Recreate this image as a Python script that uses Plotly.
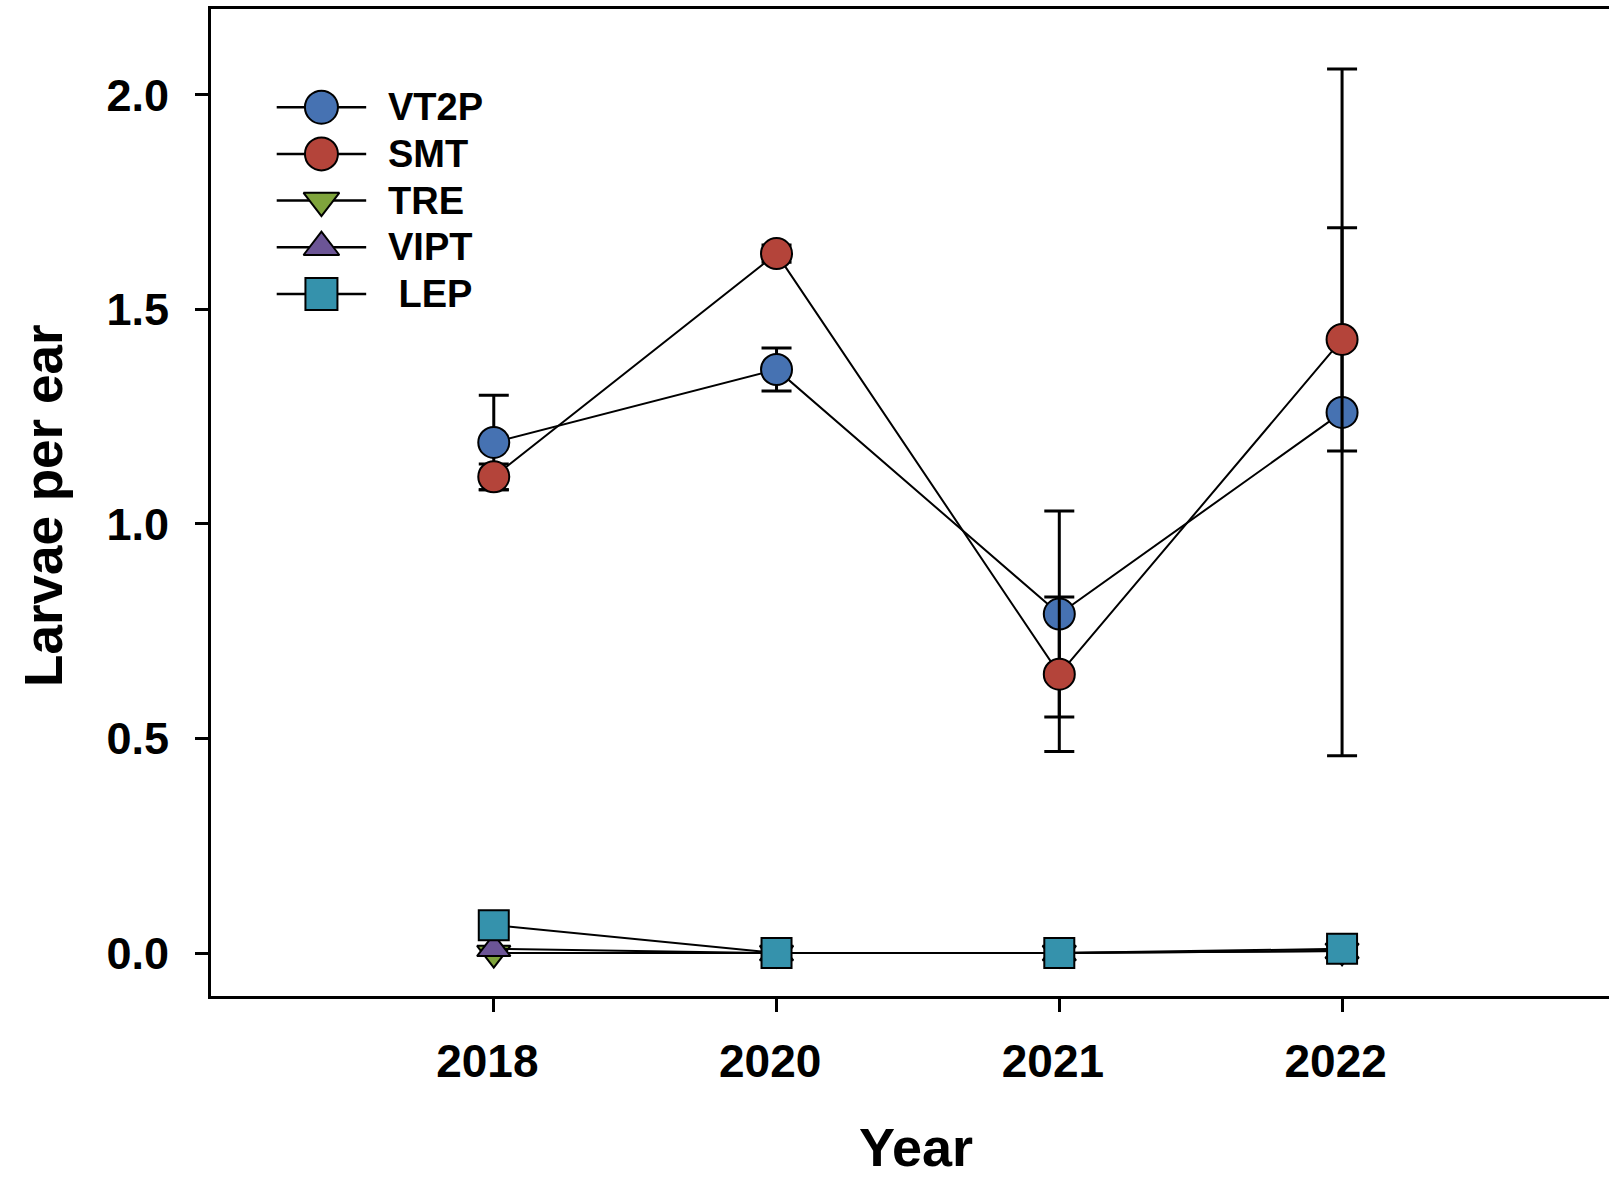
import plotly.graph_objects as go

# ---- data -------------------------------------------------------------
years = ["2018", "2020", "2021", "2022"]
series_names = ["VT2P", "SMT", "TRE", "VIPT", "LEP"]
legend_labels = ["VT2P", "SMT", "TRE", "VIPT", " LEP"]

vt2p = [1.19, 1.36, 0.79, 1.26]
vt2p_err = [0.11, 0.05, 0.24, 0.80]
smt = [1.11, 1.63, 0.65, 1.43]
smt_err = [0.03, 0.02, 0.18, 0.26]
tre = [0.0, 0.0, 0.0, 0.005]
vipt = [0.01, 0.0, 0.0, 0.005]
lep = [0.065, 0.0, 0.0, 0.01]

y_ticks = [0.0, 0.5, 1.0, 1.5, 2.0]

# ---- styling ----------------------------------------------------------
FONT = "Liberation Sans, Arial, sans-serif"
colors = ["#4672B2", "#B4443A", "#7FA43C", "#6C5596", "#3592AC"]
symbols = ["circle", "circle", "triangle-down", "triangle-up", "square"]
sizes = [31, 31, 29, 29, 30]

values = [vt2p, smt, tre, vipt, lep]
errors = [vt2p_err, smt_err, None, None, None]

fig = go.Figure()

# each series: its error bars first, then its line and markers on top,
# so later series' bars run across earlier series' symbols
for name, vals, err, col, sym, sz in zip(series_names, values, errors,
                                         colors, symbols, sizes):
    if err is not None:
        fig.add_trace(go.Scatter(
            x=years, y=vals, mode="markers",
            marker=dict(size=1, opacity=0),
            error_y=dict(type="data", array=err, visible=True,
                         color="black", thickness=3, width=15),
            showlegend=False, hoverinfo="skip",
        ))
    fig.add_trace(go.Scatter(
        x=years, y=vals, name=name, mode="lines+markers",
        line=dict(color="black", width=2),
        marker=dict(symbol=sym, size=sz, color=col,
                    line=dict(color="black", width=2)),
        showlegend=False,
    ))

# ---- legend key (drawn on a unit overlay axis) ------------------------
LEG_X0, LEG_XM, LEG_X1, LEG_XT = 0.047, 0.079, 0.111, 0.125
LEG_Y0, LEG_DY = 0.9005, 0.0473
for i, (lab, col, sym, sz) in enumerate(zip(legend_labels, colors, symbols, sizes)):
    yy = LEG_Y0 - i * LEG_DY
    fig.add_trace(go.Scatter(
        x=[LEG_X0, LEG_X1], y=[yy, yy], mode="lines",
        line=dict(color="black", width=2.5),
        xaxis="x2", yaxis="y2", showlegend=False, hoverinfo="skip",
    ))
    fig.add_trace(go.Scatter(
        x=[LEG_XM], y=[yy], mode="markers",
        marker=dict(symbol=sym, size=sz + 2, color=col,
                    line=dict(color="black", width=2)),
        xaxis="x2", yaxis="y2", showlegend=False, hoverinfo="skip",
    ))
    fig.add_annotation(
        x=LEG_XT, y=yy, xref="x2", yref="y2", text=lab, showarrow=False,
        xanchor="left", yanchor="middle",
        font=dict(family=FONT, size=38, color="black", weight="bold"),
    )

# ---- axis titles ------------------------------------------------------
fig.add_annotation(
    text="Year", xref="paper", yref="paper", x=0.5046, y=-0.1855,
    xanchor="center", yanchor="bottom", showarrow=False,
    font=dict(family=FONT, size=54, color="black", weight="bold"),
)
fig.add_annotation(
    text="Larvae per ear", xref="paper", yref="paper", x=-0.1195, y=0.4965,
    xanchor="center", yanchor="middle", showarrow=False, textangle=-90,
    font=dict(family=FONT, size=53, color="black", weight="bold"),
)

# year labels sit slightly left of their ticks
year_ticktext = [y + "\u00a0" for y in years]

fig.update_layout(
    width=1609, height=1181,
    margin=dict(l=211, r=0, t=9, b=185),
    paper_bgcolor="white", plot_bgcolor="white",
    font=dict(family=FONT, color="black", weight="bold"),
    xaxis=dict(
        type="category", range=[-1, 3.944],
        tickvals=years, ticktext=year_ticktext,
        showline=True, linecolor="black", linewidth=3, mirror=True,
        ticks="outside", ticklen=13, tickwidth=2.5, tickcolor="black",
        showgrid=False, zeroline=False,
        tickfont=dict(family=FONT, size=46, color="black", weight="bold"),
        ticklabelstandoff=10,
    ),
    yaxis=dict(
        range=[-0.1, 2.2], tickvals=y_ticks, tickformat=".1f",
        showline=True, linecolor="black", linewidth=3, mirror=False,
        ticks="outside", ticklen=13, tickwidth=2.5, tickcolor="black",
        showgrid=False, zeroline=False,
        tickfont=dict(family=FONT, size=45, color="black", weight="bold"),
        ticklabelstandoff=17,
    ),
    xaxis2=dict(overlaying="x", anchor="y2", range=[0, 1], visible=False),
    yaxis2=dict(overlaying="y", anchor="x2", range=[0, 1], visible=False),
)

fig.write_html("out.html")
